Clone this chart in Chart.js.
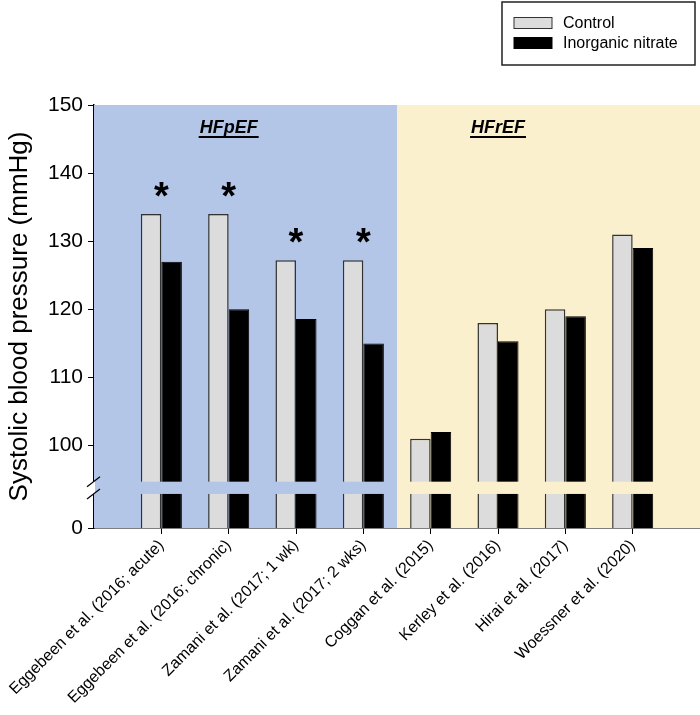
<!DOCTYPE html>
<html>
<head>
<meta charset="utf-8">
<script src="https://cdn.jsdelivr.net/npm/chart.js@4"></script>
<style>
  html, body { margin: 0; padding: 0; background: #fff; }
  #wrap { width: 700px; height: 715px; }
</style>
</head>
<body>
<div id="wrap"><canvas id="bpChart" width="700" height="715"></canvas></div>
<script>
// study names, left to right
let studies = [
  'Eggebeen et al. (2016; acute)',
  'Eggebeen et al. (2016; chronic)',
  'Zamani et al. (2017; 1 wk)',
  'Zamani et al. (2017; 2 wks)',
  'Coggan et al. (2015)',
  'Kerley et al. (2016)',
  'Hirai et al. (2017)',
  'Woessner et al. (2020)'
];
let control = [134, 134, 127.2, 127.2, 101, 118, 120, 131];
let nitrate = [127, 120, 118.6, 115, 102, 115.3, 119, 129];
let significant = [true, true, true, true, false, false, false, false];
let groupNames = ['HFpEF', 'HFrEF'];
let groupCenters = [2, 6];          // category index the group title sits over
let yTickValues = [0, 100, 110, 120, 130, 140, 150];

// the axis is broken: "0" sits just below the break, upper part is 100-150
let yBottom = 87.9;   // where 0 is drawn on the continuous scale
let breakLow = 92.9;
let breakHigh = 94.7;

let blue = '#b4c6e7';
let yellow = '#fbf0cd';
let font = "'Liberation Sans', Arial, sans-serif";

// empty slot at each end so the bars sit one full step in from the edges
let labels = [''].concat(studies, ['']);
let pad = function (arr) { return [null].concat(arr, [null]); };

function tickToScale(v) {
  return v === 0 ? yBottom : v;
}

let backgroundPlugin = {
  id: 'sections',
  beforeDatasetsDraw(chart) {
    let ctx = chart.ctx;
    let area = chart.chartArea;
    let split = chart.scales.x.getPixelForValue(4.5);
    ctx.save();
    ctx.fillStyle = blue;
    ctx.fillRect(area.left, area.top, split - area.left, area.bottom - area.top);
    ctx.fillStyle = yellow;
    ctx.fillRect(split, area.top, area.right - split, area.bottom - area.top);
    ctx.restore();
  },
  afterDatasetsDraw(chart) {
    let ctx = chart.ctx;
    let area = chart.chartArea;
    let x = chart.scales.x;
    let y = chart.scales.y;
    let split = x.getPixelForValue(4.5);
    let top = y.getPixelForValue(breakHigh);
    let bottom = y.getPixelForValue(breakLow);
    ctx.save();
    // break band across the bars
    ctx.fillStyle = blue;
    ctx.fillRect(area.left + 1, top, split - area.left - 1, bottom - top);
    ctx.fillStyle = yellow;
    ctx.fillRect(split, top, area.right - split, bottom - top);
    // gap in the axis line and the two slashes
    ctx.fillStyle = '#fff';
    ctx.fillRect(area.left - 2, top, 3, bottom - top);
    ctx.strokeStyle = '#000';
    ctx.lineWidth = 1.2;
    [top, bottom].forEach(function (py) {
      ctx.beginPath();
      ctx.moveTo(area.left - 7, py + 5);
      ctx.lineTo(area.left + 6, py - 5);
      ctx.stroke();
    });

    // asterisks over significant pairs
    ctx.fillStyle = '#000';
    ctx.font = 'bold 38px ' + font;
    ctx.textAlign = 'center';
    ctx.textBaseline = 'alphabetic';
    significant.forEach(function (s, i) {
      if (!s) return;
      let px = x.getPixelForValue(i + 1);
      let py = y.getPixelForValue(Math.max(control[i], nitrate[i]));
      ctx.fillText('*', px, py - 27 + 22);
    });

    // group titles, bold italic underlined
    ctx.font = 'italic bold 18px ' + font;
    ctx.textBaseline = 'alphabetic';
    groupNames.forEach(function (name, i) {
      let px = x.getPixelForValue(groupCenters[i]);
      let w = ctx.measureText(name).width;
      ctx.fillText(name, px, area.top + 28);
      ctx.fillRect(px - w / 2 - 1, area.top + 31, w + 2, 2);
    });
    ctx.restore();
  },
  afterDraw(chart) {
    // boxed legend in the top right corner
    let ctx = chart.ctx;
    let sets = chart.data.datasets;
    ctx.save();
    ctx.fillStyle = '#fff';
    ctx.fillRect(502, 2, 193, 63);
    ctx.strokeStyle = '#222';
    ctx.lineWidth = 1.5;
    ctx.strokeRect(502, 2, 193, 63);
    ctx.font = '16px ' + font;
    ctx.textAlign = 'left';
    ctx.textBaseline = 'middle';
    sets.forEach(function (ds, i) {
      let cy = 23 + i * 20;
      ctx.fillStyle = ds.backgroundColor;
      ctx.fillRect(514, cy - 5.5, 38, 11);
      ctx.strokeStyle = ds.borderColor;
      ctx.lineWidth = 1;
      ctx.strokeRect(514, cy - 5.5, 38, 11);
      ctx.fillStyle = '#000';
      ctx.fillText(ds.label, 563, cy + 1);
    });
    ctx.restore();
  }
};

let bpChart = new Chart(document.getElementById('bpChart').getContext('2d'), {
  type: 'bar',
  data: {
    labels: labels,
    datasets: [{
      label: 'Control',
      data: pad(control),
      backgroundColor: '#dcdcdc',
      borderColor: '#333',
      borderWidth: 1.5,
      categoryPercentage: 0.61,
      barPercentage: 1
    }, {
      label: 'Inorganic nitrate',
      data: pad(nitrate),
      backgroundColor: '#000',
      borderColor: '#000',
      borderWidth: 1,
      categoryPercentage: 0.61,
      barPercentage: 1
    }]
  },
  options: {
    responsive: false,
    animation: false,
    layout: { padding: { top: 105, right: 0, left: 0, bottom: 0 } },
    plugins: {
      legend: { display: false },
      tooltip: { enabled: false }
    },
    scales: {
      x: {
        offset: false,
        grid: {
          offset: false,
          drawOnChartArea: false,
          tickLength: 6,
          tickColor: function (c) {
            return (c.index === 0 || c.index === labels.length - 1) ? 'rgba(0,0,0,0)' : '#000';
          }
        },
        border: { color: '#000', width: 1.5 },
        ticks: {
          autoSkip: false,
          minRotation: 45,
          maxRotation: 45,
          padding: 2,
          color: '#000',
          font: { family: font, size: 16 }
        },
        afterFit: function (scale) {
          scale.height = 187;
          scale.paddingRight = 0;
          scale.paddingLeft = 0;
        }
      },
      y: {
        min: yBottom,
        max: 150,
        grid: { drawOnChartArea: false, tickLength: 6, tickColor: '#000' },
        border: { color: '#000', width: 1.5 },
        afterBuildTicks: function (scale) {
          scale.ticks = yTickValues.map(function (v) { return { value: tickToScale(v) }; });
        },
        ticks: {
          color: '#000',
          padding: 5,
          font: { family: font, size: 21 },
          callback: function (value) {
            return value === yBottom ? '0' : value;
          }
        },
        title: {
          display: true,
          text: 'Systolic blood pressure (mmHg)',
          color: '#000',
          font: { family: font, size: 26 },
          padding: { top: 4, bottom: 2 }
        },
        afterFit: function (scale) { scale.width = 94; }
      }
    }
  },
  plugins: [backgroundPlugin]
});
</script>
</body>
</html>
